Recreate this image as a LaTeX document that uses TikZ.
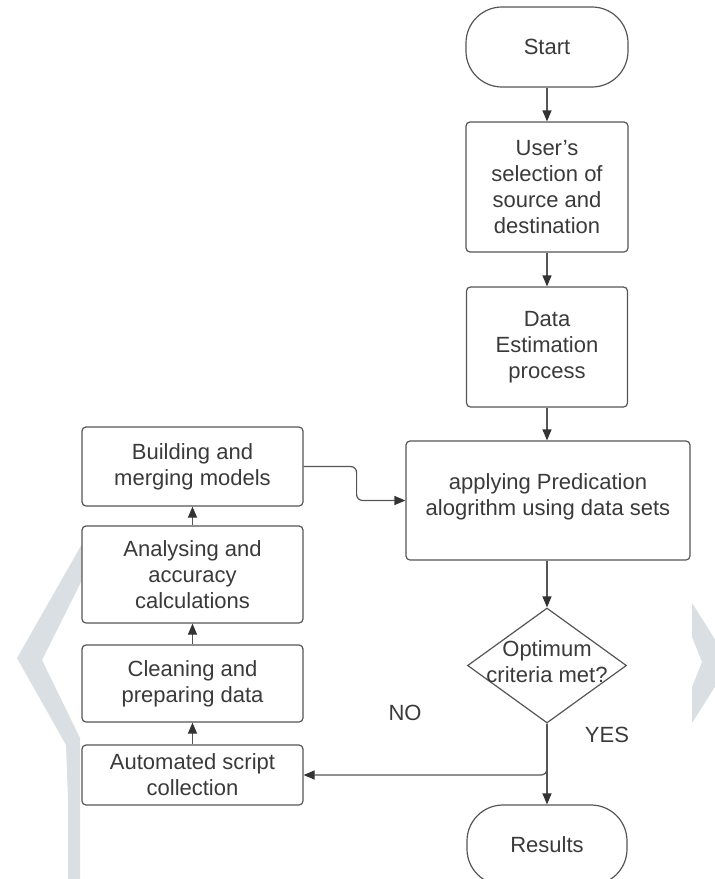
\documentclass[tikz,border=0pt]{standalone}
\usepackage{fontspec}
\setmainfont{Liberation Sans}
\usetikzlibrary{shapes.geometric,arrows.meta}
\definecolor{linec}{HTML}{555555}
\definecolor{tipc}{HTML}{333333}
\definecolor{textc}{HTML}{3A3A3A}
\definecolor{wmark}{RGB}{217,223,227}
\tikzset{
  box/.style={draw=linec, line width=1.2pt, rounded corners=4pt, fill=white, align=center,
    text=textc, inner sep=0pt, font=\fontsize{22}{26}\selectfont},
  term/.style={box, rounded corners=36pt},
  lbl/.style={text=textc, inner sep=0pt, align=center, font=\fontsize{22}{26}\selectfont},
  arr/.style={draw=linec, line width=1.2pt, -{Triangle[length=11pt,width=9pt,color=tipc]}},
}
\begin{document}
\begin{tikzpicture}[x=1pt,y=-1pt]
\useasboundingbox (0,0) rectangle (715,879);
\clip (0,0) rectangle (715,879);
% watermark shapes
\fill[wmark] (90,530) -- (17,658) -- (66,745) -- (68,800) -- (68,879) -- (80,879) -- (80,738) -- (42,660) -- (107,530) -- cycle;
\fill[wmark] (692,603) -- (730,663) -- (692,723) -- (692,687) -- (702,662) -- (692,637) -- cycle;
% right column
\node[term, minimum width=162pt, minimum height=80pt] (start) at (547,47) {Start};
\node[box, minimum width=162pt, minimum height=130pt] (user) at (547,187) {User's\\selection of\\source and\\destination};
\node[box, minimum width=161pt, minimum height=120pt] (data) at (547,347) {Data\\Estimation\\process};
\node[box, minimum width=284pt, minimum height=119pt] (apply) at (548,500.5) {};
\node[lbl] (applytext) at (548,497) {applying Predication\\alogrithm using data sets};
\node[diamond, draw=linec, line width=1.2pt, fill=white, inner sep=0pt, minimum width=159pt, minimum height=115pt] (dec) at (547,665.5) {};
\node[lbl] (dectext) at (547,662) {Optimum\\criteria met?};
\node[term, minimum width=160pt, minimum height=80pt] (res) at (547,845) {Results};
% left column
\node[box, minimum width=221pt, minimum height=79pt] (build) at (192.5,466.5) {Building and\\merging models};
\node[box, minimum width=221pt, minimum height=97pt] (anal) at (192.5,574.5) {Analysing and\\accuracy\\calculations};
\node[box, minimum width=221pt, minimum height=77pt] (clean) at (192.5,683.5) {Cleaning and\\preparing data};
\node[box, minimum width=221pt, minimum height=60pt] (auto) at (192.5,775) {Automated script\\collection};
% labels
\node[lbl] (no) at (405,713) {NO};
\node[lbl] (yes) at (607,735) {YES};
% connectors
\draw[arr] (start) -- (user);
\draw[arr] (user) -- (data);
\draw[arr] (data.south) -- (data.south |- apply.north);
\draw[arr] (apply.south -| dec.north) -- (dec.north);
\draw[arr] (dec.south) -- (res.north);
\draw[arr, rounded corners=6pt] (dec.south) |- (auto.east);
\draw[arr] (auto) -- (clean);
\draw[arr] (clean) -- (anal);
\draw[arr] (anal) -- (build);
\draw[arr, rounded corners=6pt] (build.east) -- ++(53,0) |- (apply.west);
\end{tikzpicture}
\end{document}
